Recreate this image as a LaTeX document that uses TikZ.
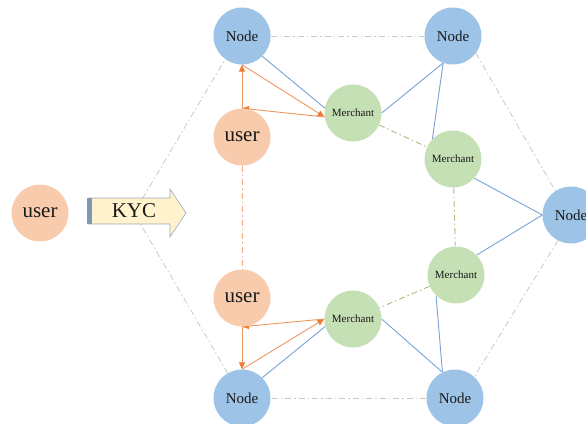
\documentclass[tikz,border=0pt]{standalone}
\usepackage{fontspec}
\setmainfont{Liberation Serif}
\usetikzlibrary{arrows.meta,backgrounds}
\definecolor{nodeblue}{RGB}{157,195,230}
\definecolor{userorange}{RGB}{248,203,173}
\definecolor{merchgreen}{RGB}{197,224,180}
\definecolor{linkblue}{RGB}{120,162,215}
\definecolor{arrorange}{RGB}{240,150,95}
\definecolor{arrtip}{RGB}{237,125,49}
\definecolor{hexgray}{RGB}{200,200,200}
\definecolor{merchdashcol}{RGB}{175,185,125}
\definecolor{kycfill}{RGB}{255,242,204}
\definecolor{kycedge}{RGB}{150,170,190}
\definecolor{kycbar}{RGB}{125,152,178}
\definecolor{textdark}{RGB}{25,25,25}
\tikzset{
  circbase/.style={circle, draw=none, minimum size=57pt, inner sep=0pt, text=textdark},
  blocknode/.style={circbase, fill=nodeblue, font=\fontsize{15}{15}\selectfont},
  usernode/.style={circbase, fill=userorange, font=\fontsize{21}{21}\selectfont},
  merchnode/.style={circbase, fill=merchgreen, font=\fontsize{11}{11}\selectfont},
  bluelink/.style={draw=linkblue, line width=0.9pt},
  orarrow/.style={draw=arrorange, line width=0.9pt, -{Triangle[length=7pt,width=6pt,color=arrtip]}},
  hexline/.style={draw=hexgray, line width=0.8pt, dash pattern=on 6pt off 3pt on 1.5pt off 3pt},
  userdash/.style={draw=arrorange!80, line width=0.8pt, dash pattern=on 6pt off 3pt on 1.5pt off 3pt},
  merchdash/.style={draw=merchdashcol, line width=0.9pt, dash pattern=on 6pt off 3pt on 1.5pt off 3pt},
}
\begin{document}
\begin{tikzpicture}[x=1pt,y=-1pt]
\useasboundingbox (0,0) rectangle (586,423);
% nodes
\node[blocknode] (tl) at (242,36) {Node};
\node[blocknode] (tr) at (453,36) {Node};
\node[blocknode] (r)  at (571,215) {Node};
\node[blocknode] (br) at (455,398) {Node};
\node[blocknode] (bl) at (242,398) {Node};
\node[merchnode] (m1) at (353,113) {Merchant};
\node[merchnode] (m2) at (453,159) {Merchant};
\node[merchnode] (m3) at (456,275) {Merchant};
\node[merchnode] (m4) at (353,319) {Merchant};
\node[usernode] (ut) at (242,137) {user};
\node[usernode] (ub) at (242,298) {user};
\node[usernode] (ul) at (40,213) {user};
\coordinate (lv) at (134,213);
% KYC arrow
\path[fill=kycfill, draw=kycedge, line width=0.6pt]
  (89,198) -- (170,198) -- (170,189) -- (186,213) -- (170,237) -- (170,224) -- (89,224) -- cycle;
\fill[kycbar] (87,198) rectangle (92,224);
\node[font=\fontsize{21}{21}\selectfont, text=textdark, inner sep=0pt] (kyc) at (134,211) {KYC};
\begin{pgfonlayer}{background}
% hexagon
\draw[hexline] (tl) -- (tr);
\draw[hexline] (tr.-37) -- (r.123);
\draw[hexline] (r.-117) -- (br.48);
\draw[hexline] (br) -- (bl);
\draw[hexline] (bl.120) -- (lv) -- (tl.-126);
% blue links
\draw[bluelink] (tl.-45) -- (m1.170);
\draw[bluelink] (tr.-110) -- (m1.east);
\draw[bluelink] (tr.-110) -- (m2.136);
\draw[bluelink] (m2.-42) -- (r.west);
\draw[bluelink] (m3.44) -- (r.west);
\draw[bluelink] (m3.226) -- (br.116);
\draw[bluelink] (m4.east) -- (br.116);
\draw[bluelink] (bl.45) -- (m4.195);
% merchant dashes
\draw[merchdash] (m1) -- (m2);
\draw[merchdash] (m2) -- (m3);
\draw[merchdash] (m3) -- (m4);
% user dash
\draw[userdash] (ut) -- (ub);
% orange arrows top
\draw[orarrow] (ut.north) -- (tl.south);
\draw[orarrow] (tl.south) -- (m1.188);
\draw[orarrow] (m1.188) -- (ut.north);
% orange arrows bottom
\draw[orarrow] (ub.south) -- (bl.north);
\draw[orarrow] (bl.north) -- (m4.west);
\draw[orarrow] (m4.west) -- (ub.south);
\end{pgfonlayer}
\end{tikzpicture}
\end{document}
